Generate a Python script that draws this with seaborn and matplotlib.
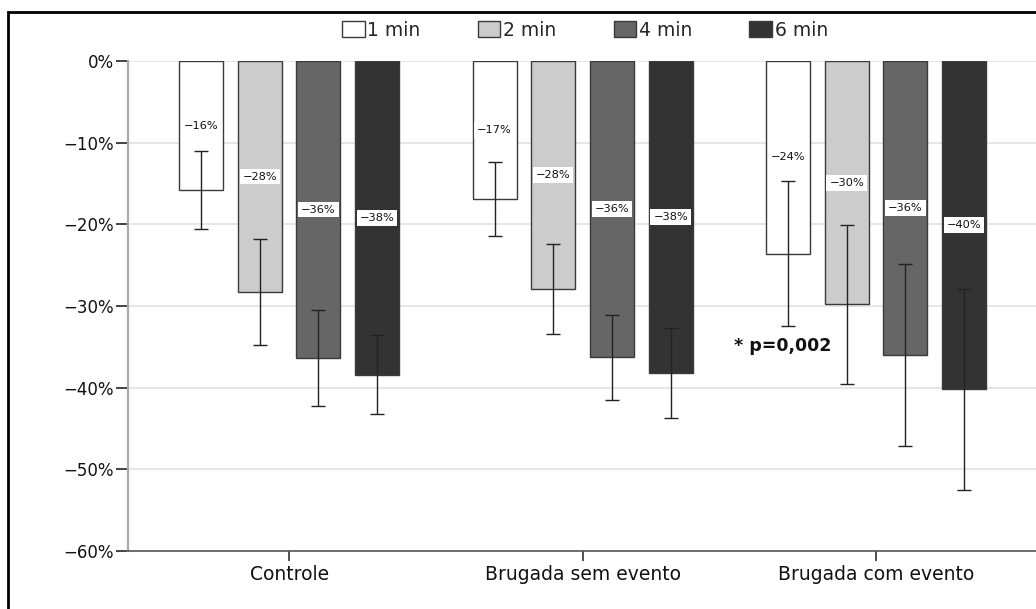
import matplotlib
matplotlib.use("Agg")
import matplotlib.pyplot as plt
from matplotlib.patches import Rectangle
from matplotlib.ticker import FuncFormatter
import seaborn as sns
import pandas as pd

# Mean change (%) per group and time point, with error bar half-widths
groups = ["Controle", "Brugada sem evento", "Brugada com evento"]
times = ["1 min", "2 min", "4 min", "6 min"]
mean_controle = [-15.8, -28.3, -36.4, -38.4]
mean_sem_evento = [-16.9, -27.9, -36.3, -38.2]
mean_com_evento = [-23.6, -29.8, -36.0, -40.2]
err_controle = [4.75, 6.5, 5.9, 4.85]
err_sem_evento = [4.55, 5.5, 5.15, 5.55]
err_com_evento = [8.9, 9.7, 11.2, 12.3]
yticks = [0, -10, -20, -30, -40, -50, -60]
annotation = "* p=0,002"

fill_colors = ["#ffffff", "#cccccc", "#666666", "#333333"]

means = [mean_controle, mean_sem_evento, mean_com_evento]
errs = [err_controle, err_sem_evento, err_com_evento]
rows = []
for g, m_list, e_list in zip(groups, means, errs):
    for t, m, e in zip(times, m_list, e_list):
        rows.append({"grupo": g, "tempo": t, "valor": m, "erro": e})
df = pd.DataFrame(rows)

sns.set_theme(style="white")
plt.rcParams["font.family"] = ["DejaVu Sans"]

fig = plt.figure(figsize=(10.36, 6.09), dpi=100)
ax = fig.add_axes([128 / 1036, 1 - 551 / 609, 1 - 128 / 1036, (551 - 61) / 609])

sns.barplot(data=df, x="grupo", y="valor", hue="tempo", order=groups,
            hue_order=times, palette=fill_colors, width=0.8, gap=0.25,
            errorbar=None, edgecolor="#3a3a3a", linewidth=1.0, ax=ax,
            zorder=2)

# error bars and value labels, positioned on the drawn bars
for t, container in zip(times, ax.containers):
    sub = df[df["tempo"] == t].set_index("grupo").loc[groups]
    xs = [p.get_x() + p.get_width() / 2 for p in container.patches]
    ax.errorbar(xs, sub["valor"].values, yerr=sub["erro"].values, fmt="none",
                ecolor="#222222", elinewidth=1.0, capsize=5, capthick=1.0,
                zorder=3)
    for x, v in zip(xs, sub["valor"].values):
        ax.text(x, v / 2, f"{round(v):d}%".replace("-", "\u2212"),
                ha="center", va="center", fontsize=8.2, color="#111111",
                zorder=4,
                bbox=dict(boxstyle="square,pad=0.25", fc="white", ec="none"))

ax.text(1.515, -34.9, annotation, ha="left", va="center", fontsize=12.5,
        fontweight="bold", color="#111111", zorder=4)

ax.set_ylim(-60, 0)
ax.set_xlim(-0.549, 2.545)
ax.set_yticks(yticks)
ax.yaxis.set_major_formatter(FuncFormatter(lambda v, _: f"{int(v)}%".replace("-", "\u2212")))
ax.yaxis.grid(True, color="#e2e2e2", linewidth=1.2, zorder=0)
ax.set_axisbelow(True)
ax.set_xlabel("")
ax.set_ylabel("")

for s in ["top", "right"]:
    ax.spines[s].set_visible(False)
ax.spines["left"].set_color("#aaaaaa")
ax.spines["left"].set_linewidth(1.6)
ax.spines["bottom"].set_color("#555555")
ax.spines["bottom"].set_linewidth(1.2)

ax.tick_params(axis="y", direction="out", length=9, width=1.2, color="#222222",
               labelsize=12, labelcolor="#111111", pad=1, left=True)
ax.tick_params(axis="x", direction="out", length=7, width=1.2, color="#333333",
               labelsize=13.5, labelcolor="#111111", pad=3, bottom=True)

handles, labels = ax.get_legend_handles_labels()
ax.legend(handles, labels, loc="center", bbox_to_anchor=(585 / 1036, 1 - 30 / 609),
          bbox_transform=fig.transFigure, ncol=4, frameon=False, fontsize=13.5,
          handlelength=1.2, handleheight=1.0, handletextpad=0.15,
          columnspacing=3.05, borderaxespad=0)

fig.add_artist(Rectangle((8 / 1036, -0.2), 1.5, 1.2 - 11.5 / 609 + 0.0,
                         transform=fig.transFigure, fill=False,
                         edgecolor="black", linewidth=2, zorder=10))

fig.savefig("out.png", dpi=100)
